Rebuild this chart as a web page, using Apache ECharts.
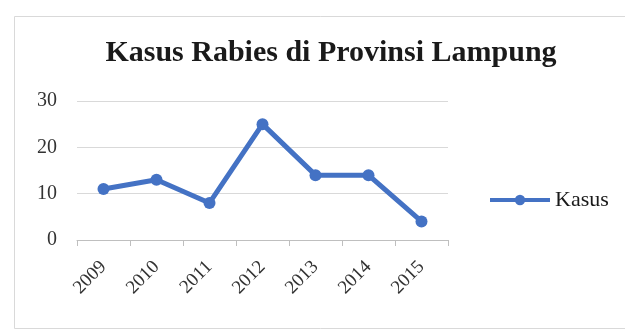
<!DOCTYPE html>
<html><head><meta charset="utf-8">
<script src="https://cdn.jsdelivr.net/npm/echarts@6/dist/echarts.min.js"></script>
<style>html,body{margin:0;padding:0;background:#fff}#c{width:625px;height:329px}</style>
</head><body><div id="c"></div>
<script>
var titleText = 'Kasus Rabies di Provinsi Lampung';
var seriesName = 'Kasus';
var years = ['2009','2010','2011','2012','2013','2014','2015'];
var kasus = [11, 13, 8, 25, 14, 14, 4];
var yTicks = [0, 10, 20, 30];

var font = '"Liberation Serif", "Times New Roman", serif';
var blue = '#4472C4';
var chart = echarts.init(document.getElementById('c'));
chart.setOption({
  animation: false,
  graphic: [{
    type: 'rect', left: 12, top: 14, shape: {width: 620, height: 312},
    style: {fill: 'none', stroke: '#d9d9d9', lineWidth: 1}, z: -1
  }],
  title: {
    text: titleText, left: 326, top: 33, textAlign: 'center',
    textStyle: {fontFamily: font, fontWeight: 'bold', fontSize: 30, color: '#1a1a1a'}
  },
  legend: {
    data: [seriesName], left: 483, top: 184, itemWidth: 60, itemHeight: 13, itemGap: 5,
    lineStyle: {width: 4},
    textStyle: {fontFamily: font, fontSize: 22, color: '#1a1a1a'}
  },
  grid: {left: 77, right: 177, top: 101, bottom: 89, containLabel: false},
  xAxis: {
    type: 'category', data: years, boundaryGap: true,
    axisLine: {lineStyle: {color: '#bfbfbf', width: 1}},
    axisTick: {show: true, length: 6, lineStyle: {color: '#bfbfbf'}},
    axisLabel: {rotate: 45, fontFamily: font, fontSize: 19, color: '#333', margin: 24}
  },
  yAxis: {
    type: 'value', min: yTicks[0], max: yTicks[yTicks.length-1], interval: 10,
    axisLine: {show: false}, axisTick: {show: false},
    splitLine: {lineStyle: {color: '#d9d9d9', width: 1}},
    axisLabel: {fontFamily: font, fontSize: 20, color: '#333', margin: 20}
  },
  series: [{
    name: seriesName, type: 'line', data: kasus,
    symbol: 'circle', symbolSize: 12,
    lineStyle: {color: blue, width: 5},
    itemStyle: {color: blue}
  }]
});
</script></body></html>
